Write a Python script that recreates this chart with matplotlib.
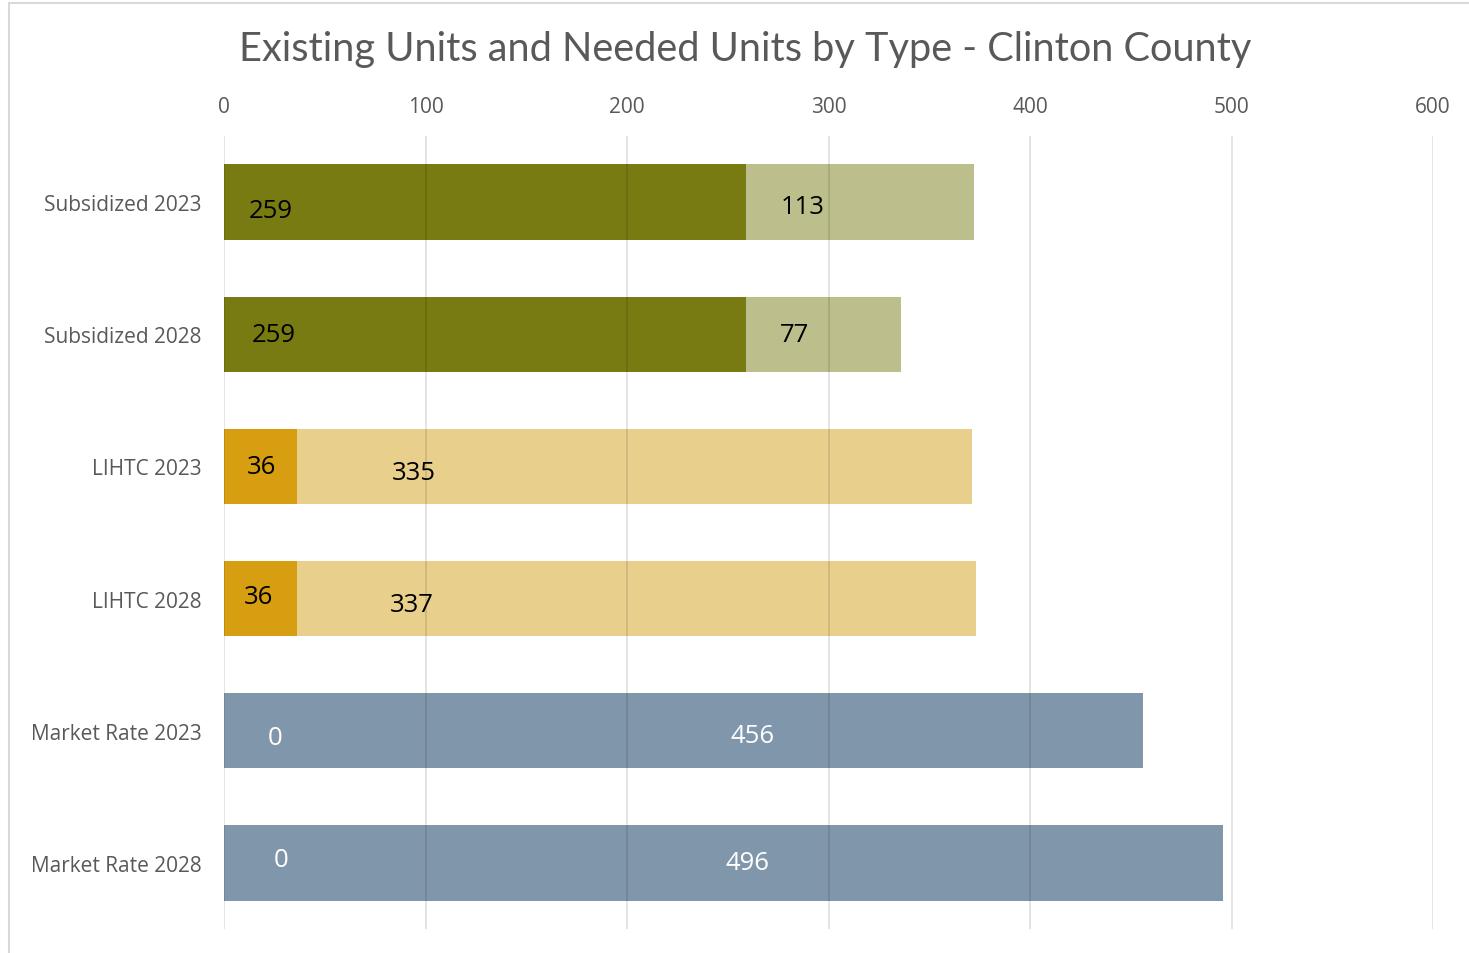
import matplotlib
matplotlib.use("Agg")
import matplotlib.pyplot as plt
from matplotlib.patches import Rectangle

categories = ["Subsidized 2023", "Subsidized 2028", "LIHTC 2023",
              "LIHTC 2028", "Market Rate 2023", "Market Rate 2028"]
existing = [259, 259, 36, 36, 0, 0]
needed = [113, 77, 335, 337, 456, 496]
x_ticks = [0, 100, 200, 300, 400, 500, 600]

# colours per row: (existing, needed, label text colour)
existing_colors = ["#777b12", "#777b12", "#d69e10", "#d69e10", "#8097ab", "#8097ab"]
needed_colors = ["#bcbe8b", "#bcbe8b", "#e8cf8b", "#e8cf8b", "#8097ab", "#8097ab"]
text_colors = ["black", "black", "black", "black", "white", "white"]

# label anchor positions (x in data units, small vertical nudges in category units)
existing_label_x = [23.3, 24.8, 18.4, 16.9, 25.3, 28.3]
existing_label_dy = [0.06, 0.0, 0.0, -0.015, 0.053, -0.023]
needed_label_x = [287.3, 282.9, 94.3, 93.3, 262.5, 260.0]
needed_label_dy = [0.035, 0.0, 0.045, 0.045, 0.038, 0.0]

W, H = 1469, 954
fig = plt.figure(figsize=(W / 100, H / 100), dpi=100)
fig.patch.set_facecolor("white")

# chart border (top and left edges visible)
fig.add_artist(Rectangle((9 / W, -0.05), 1.2, 1 - 4 / H + 0.05, transform=fig.transFigure,
                         fill=False, edgecolor="#d9d9d9", linewidth=1.5))

ax = fig.add_axes([224 / W, 1 - 930 / H, (1433 - 224) / W, (930 - 137) / H])
ypos = list(range(len(categories)))
bar_h = 0.57

ax.barh(ypos, existing, height=bar_h, color=existing_colors, zorder=1)
ax.barh(ypos, needed, left=existing, height=bar_h, color=needed_colors, zorder=1)

for i in ypos:
    ax.text(existing_label_x[i], i + existing_label_dy[i], str(existing[i]),
            ha="center", va="center", fontsize=18.5, color=text_colors[i],
            family="Open Sans", zorder=3)
    ax.text(needed_label_x[i], i + needed_label_dy[i], str(needed[i]),
            ha="center", va="center", fontsize=18.5, color=text_colors[i],
            family="Open Sans", zorder=3)

ax.set_xlim(0, 600)
ax.set_ylim(5.5, -0.5)
ax.set_xticks(x_ticks)
ax.set_yticks(ypos)
ax.set_yticklabels(categories)
ax.xaxis.tick_top()
ax.tick_params(axis="x", length=0, pad=14, labelsize=15, labelcolor="#595959")
ax.tick_params(axis="y", length=0, pad=16, labelsize=15, labelcolor="#595959")
for lab in ax.get_xticklabels() + ax.get_yticklabels():
    lab.set_family("Open Sans")

for s in ax.spines.values():
    s.set_visible(False)
ax.set_axisbelow(False)
ax.grid(axis="x", color="black", alpha=0.11, linewidth=1.4, zorder=2)
ax.grid(axis="y", visible=False)

fig.text(745.5 / W, 1 - 49 / H, "Existing Units and Needed Units by Type - Clinton County",
         ha="center", va="center", fontsize=28.6, color="#595959",
         family="Lato")

fig.savefig("out.png", dpi=100)
